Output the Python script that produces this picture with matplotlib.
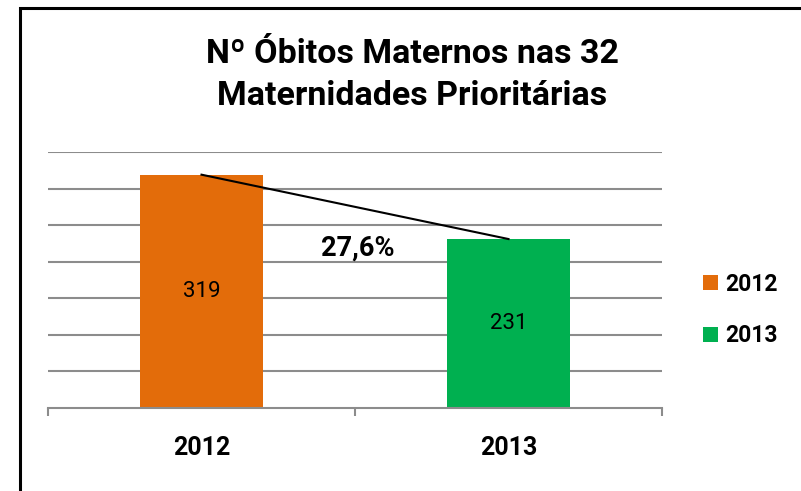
import matplotlib
matplotlib.use("Agg")
import matplotlib.pyplot as plt
from matplotlib.patches import Rectangle, Patch

categories = ["2012", "2013"]
values = [319, 231]
colors = ["#E36C0A", "#00B050"]
title = "Nº Óbitos Maternos nas 32\nMaternidades Prioritárias"

W, H = 801, 491
fig = plt.figure(figsize=(W / 100, H / 100), dpi=100)
FONT = ["Roboto", "DejaVu Sans"]

def px(x0, y0, x1, y1):
    return [x0 / W, 1 - y1 / H, (x1 - x0) / W, (y1 - y0) / H]

ax = fig.add_axes(px(48, 152, 662, 408))
x = list(range(len(categories)))
bars = ax.bar(x, values, width=0.4, color=colors, zorder=3)
ax.set_xlim(-0.5, 1.5)
ax.set_ylim(0, 350)
ax.set_yticks(range(50, 351, 50))
ax.yaxis.grid(True, color="#8c8c8c", linewidth=1.5, zorder=0)
ax.tick_params(axis="y", length=0, labelleft=False)
for s in ["top", "right", "left"]:
    ax.spines[s].set_visible(False)
ax.spines["bottom"].set_color("#8c8c8c")
ax.spines["bottom"].set_linewidth(1.5)
ax.spines["bottom"].set_zorder(4)
ax.set_xticks([-0.5, 0.5, 1.5])
ax.set_xticklabels([])
ax.tick_params(axis="x", which="major", length=6, width=1.5, color="#8c8c8c")
ax.set_xticks(x, minor=True)
ax.set_xticklabels(categories, minor=True, fontsize=18, fontweight="bold", family=FONT)
ax.tick_params(axis="x", which="minor", length=0, pad=20)

for xi, v in zip(x, values):
    ax.text(xi, v / 2, str(v), ha="center", va="center", fontsize=16,
            family=FONT, zorder=5)

ax.plot(x, values, color="black", linewidth=1.5, zorder=5)
pct = (values[0] - values[1]) / values[0] * 100
ax.text(0.51, 219, f"{pct:.1f}%".replace(".", ","), ha="center", va="center",
        fontsize=19.5, fontweight="bold", family=FONT, zorder=5)

fig.text(412 / W, 1 - 75 / H, title, ha="center", va="center", fontsize=24.5,
         fontweight="bold", family=FONT, linespacing=1.38)

handles = [Patch(facecolor=c) for c in colors]
fig.legend(handles, categories, loc="center left",
           bbox_to_anchor=(682 / W, 1 - 310 / H), frameon=False,
           prop={"family": "Roboto", "weight": "bold", "size": 16.5},
           handlelength=0.65, handleheight=0.65, handletextpad=0.35, labelspacing=1.25)

fig.add_artist(Rectangle((19.5 / W, -0.2), 2, 1.2 - 8 / H, transform=fig.transFigure,
                         fill=False, edgecolor="black", linewidth=2.2))

fig.savefig("out.png", dpi=100)
